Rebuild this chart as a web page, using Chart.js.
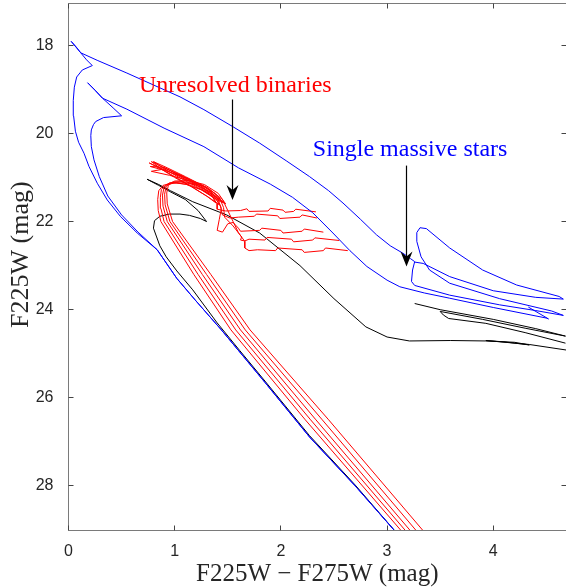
<!DOCTYPE html>
<html><head><meta charset="utf-8">
<script src="https://cdn.jsdelivr.net/npm/chart.js@4.4.0/dist/chart.umd.min.js"></script>
<style>html,body{margin:0;padding:0;background:#fff;overflow:hidden}canvas{display:block}</style>
</head><body>
<canvas id="c" width="566" height="587" style="width:566px;height:587px"></canvas>
<script>
const xTicks=[0,1,2,3,4];
const yTicks=[18,20,22,24,26,28];

const blueOuter=[[3.12,29.15],[2.70,28.0],[2.27,26.89],[1.85,25.65],[1.44,24.46],[1.20,23.8],[1.02,23.29],[0.835,22.64],[0.647,22.26],[0.491,21.89],[0.365,21.51],[0.271,21.13],[0.193,20.75],[0.146,20.45],[0.095,20.2],[0.065,19.95],[0.048,19.6],[0.045,19.25],[0.055,18.95],[0.077,18.72],[0.13,18.56],[0.224,18.46],[0.17,18.33],[0.115,18.17],[0.07,18.04],[0.025,17.91],[0.07,18.03],[0.115,18.17],[0.27,18.34],[0.55,18.63],[0.80,18.9],[1.05,19.17],[1.275,19.46],[1.55,19.85],[1.80,20.22],[2.05,20.62],[2.27,20.98],[2.45,21.3],[2.585,21.58],[2.75,21.95],[2.90,22.3],[3.03,22.55],[3.15,22.72],[3.22,22.84],[3.26,22.91],[3.24,23.1],[3.23,23.36],[3.26,23.45],[3.59,23.67],[4.06,23.89],[4.40,24.02],[4.66,24.13],[4.55,24.03],[4.06,23.75],[3.59,23.4],[3.40,23.1],[3.32,22.8],[3.28,22.45],[3.28,22.25],[3.31,22.14],[3.37,22.16],[3.59,22.60],[3.90,23.10],[4.22,23.44],[4.62,23.70],[4.66,23.76],[4.40,23.72],[4.00,23.57],[3.59,23.25],[3.34,22.95],[3.26,22.92]];

const blueInner=[[3.12,29.15],[2.70,28.0],[2.27,26.89],[1.85,25.65],[1.44,24.46],[1.20,23.8],[1.02,23.29],[0.835,22.64],[0.655,22.24],[0.50,21.85],[0.37,21.42],[0.29,20.98],[0.24,20.6],[0.215,20.30],[0.21,20.05],[0.215,19.92],[0.235,19.80],[0.256,19.73],[0.33,19.64],[0.50,19.6],[0.42,19.42],[0.32,19.2],[0.25,19.02],[0.18,18.85],[0.25,19.02],[0.32,19.2],[0.55,19.45],[0.90,19.88],[1.275,20.30],[1.60,20.78],[1.90,21.15],[2.11,21.45],[2.30,21.8],[2.49,22.26],[2.65,22.66],[2.81,23.02],[3.00,23.33],[3.12,23.48],[3.35,23.62],[3.59,23.74],[4.0,23.95],[4.5,24.19],[4.52,24.21],[4.33,23.94]];

const blackMain=[[3.12,29.15],[2.70,27.98],[2.27,26.86],[1.85,25.62],[1.61,24.92],[1.40,24.3],[1.17,23.55],[1.02,23.12],[0.92,22.80],[0.86,22.55],[0.83,22.35],[0.80,22.15],[0.81,21.98],[0.86,21.88],[0.95,21.83],[1.05,21.83],[1.14,21.86],[1.24,21.93],[1.30,22.0],[1.22,21.75],[1.10,21.5],[0.955,21.32],[0.85,21.18],[0.74,21.04],[0.85,21.16],[0.96,21.30],[1.17,21.55],[1.49,21.85],[1.80,22.26],[2.18,23.0],[2.50,23.75],[2.80,24.39],[3.0,24.62],[3.21,24.71],[3.60,24.70],[3.93,24.71],[4.20,24.74],[4.34,24.80],[4.10,24.73],[3.93,24.70],[4.34,24.79],[4.70,24.92]];
const blackTail=[[3.26,23.86],[3.50,24.0],[4.00,24.22],[4.40,24.43],[4.68,24.60],[4.30,24.42],[3.90,24.22],[3.50,24.04],[3.53,24.12],[3.58,24.2],[3.93,24.31],[4.30,24.52],[4.68,24.76]];

const red1=[[3.235,29.3],[2.23,26.5],[1.53,24.46],[1.18,23.2],[0.87,22.0],[0.845,21.75],[0.84,21.5],[0.85,21.3],[0.89,21.18],[0.98,21.12],[1.10,21.15],[1.25,21.28],[1.36,21.45],[1.39,21.58],[1.30,21.42],[1.15,21.2],[1.0,21.0],[0.88,20.82],[0.76,20.67],[0.88,20.8],[1.05,20.98],[1.22,21.2],[1.35,21.42],[1.40,21.6],[1.40,21.72],[1.48,21.76],[1.62,21.75],[1.68,21.71],[1.70,21.77],[1.88,21.76],[1.90,21.70],[2.02,21.74],[2.04,21.79],[2.12,21.77],[2.14,21.72],[2.33,21.78]];
const red2=[[3.275,29.3],[2.28,26.5],[1.575,24.46],[1.22,23.2],[0.90,22.0],[0.87,21.7],[0.865,21.45],[0.875,21.27],[0.92,21.16],[1.02,21.12],[1.16,21.18],[1.30,21.33],[1.40,21.52],[1.42,21.62],[1.32,21.45],[1.17,21.22],[1.0,20.98],[0.87,20.80],[0.78,20.64],[0.90,20.78],[1.08,20.97],[1.25,21.2],[1.38,21.45],[1.43,21.65],[1.45,21.85],[1.52,21.92],[1.60,21.9],[1.75,21.88],[1.77,21.83],[1.97,21.87],[1.99,21.93],[2.18,21.90],[2.20,21.85],[2.34,21.92]];
const red3=[[3.32,29.3],[2.33,26.5],[1.62,24.46],[1.26,23.2],[0.93,22.0],[0.89,21.65],[0.885,21.4],[0.90,21.22],[0.95,21.12],[1.06,21.1],[1.20,21.17],[1.34,21.33],[1.43,21.55],[1.35,21.42],[1.20,21.2],[1.02,20.97],[0.90,20.8],[0.80,20.64],[0.93,20.78],[1.10,20.98],[1.28,21.2],[1.40,21.45],[1.44,21.7],[1.42,21.95],[1.40,22.2],[1.45,22.24],[1.50,22.05],[1.55,22.02],[1.60,22.15],[1.62,22.22],[1.80,22.2],[1.82,22.15],[2.00,22.2],[2.02,22.26],[2.20,22.22],[2.22,22.17],[2.40,22.24]];
const red4=[[3.375,29.3],[2.39,26.5],[1.665,24.46],[1.30,23.2],[0.955,22.0],[0.91,21.62],[0.905,21.38],[0.92,21.2],[0.98,21.1],[1.10,21.1],[1.25,21.18],[1.38,21.36],[1.46,21.58],[1.37,21.42],[1.22,21.18],[1.04,20.95],[0.90,20.77],[0.77,20.75],[0.92,20.85],[1.12,21.02],[1.30,21.22],[1.42,21.45],[1.46,21.68],[1.47,21.9],[1.55,22.1],[1.63,22.35],[1.62,22.42],[1.66,22.44],[1.70,22.40],[1.85,22.42],[1.87,22.36],[2.10,22.40],[2.12,22.46],[2.30,22.42],[2.32,22.37],[2.55,22.43]];
const red5=[[3.44,29.3],[2.45,26.5],[1.71,24.46],[1.34,23.2],[0.98,22.0],[0.93,21.6],[0.925,21.35],[0.94,21.18],[1.0,21.08],[1.13,21.07],[1.28,21.16],[1.41,21.36],[1.48,21.6],[1.38,21.42],[1.24,21.18],[1.05,20.95],[0.92,20.8],[0.78,20.86],[0.95,20.95],[1.15,21.08],[1.32,21.25],[1.45,21.5],[1.50,21.75],[1.55,22.0],[1.60,22.25],[1.66,22.45],[1.66,22.6],[1.70,22.66],[1.78,22.64],[1.95,22.66],[1.97,22.60],[2.20,22.64],[2.22,22.70],[2.40,22.66],[2.42,22.60],[2.63,22.66]];

const labels=[
  {text:'Unresolved binaries', x:1.571, y:19.05, color:'#ff0000'},
  {text:'Single massive stars', x:3.217, y:20.52, color:'#0000ff'}
];
const arrows=[
  {x:1.541, from:19.23, to:21.51},
  {x:3.187, from:20.73, to:23.02}
];
const yTitle={text:'F225W (mag)', at:22.75};

const pts=a=>a.map(([x,y])=>({x,y}));
const ds=(arr,color)=>({data:pts(arr),showLine:true,borderColor:color,backgroundColor:color,borderWidth:1,pointRadius:0,fill:false,tension:0});

const snap=v=>Math.round(v-0.5)+0.5;
const framePlugin={id:'frame',afterDraw(chart){
  const {ctx,chartArea:a,scales:{x,y}}=chart;
  ctx.save();
  ctx.font='24px "Liberation Serif"';
  ctx.textAlign='center';ctx.textBaseline='alphabetic';
  labels.forEach(l=>{ctx.fillStyle=l.color;ctx.fillText(l.text,x.getPixelForValue(l.x),y.getPixelForValue(l.y));});
  ctx.save();
  ctx.translate(21,y.getPixelForValue(yTitle.at));
  ctx.rotate(-Math.PI/2);
  ctx.font='26px "Liberation Serif"';ctx.fillStyle='#262626';ctx.textBaseline='middle';
  ctx.fillText(yTitle.text,0,0);
  ctx.restore();
  arrows.forEach(ar=>{
    const px=snap(x.getPixelForValue(ar.x)), p0=y.getPixelForValue(ar.from), p1=y.getPixelForValue(ar.to);
    ctx.strokeStyle='#000';ctx.fillStyle='#000';ctx.lineWidth=1.2;
    ctx.beginPath();ctx.moveTo(px,p0);ctx.lineTo(px,p1-8);ctx.stroke();
    ctx.beginPath();ctx.moveTo(px,p1);ctx.lineTo(px-6,p1-15);ctx.lineTo(px,p1-10);ctx.lineTo(px+6,p1-15);ctx.closePath();ctx.fill();
  });
  const L=snap(a.left),R=a.right+0.5,T=snap(a.top),B=snap(a.bottom);
  ctx.strokeStyle='#7a7a7a';ctx.lineWidth=1;
  ctx.beginPath();ctx.moveTo(L,T);ctx.lineTo(R,T);ctx.lineTo(R,B);ctx.lineTo(L,B);ctx.closePath();ctx.stroke();
  ctx.strokeStyle='#444';
  ctx.beginPath();
  xTicks.forEach(v=>{const p=snap(x.getPixelForValue(v));ctx.moveTo(p,B);ctx.lineTo(p,B-5);ctx.moveTo(p,T);ctx.lineTo(p,T+5);});
  yTicks.forEach(v=>{const p=snap(y.getPixelForValue(v));ctx.moveTo(L,p);ctx.lineTo(L+5,p);ctx.moveTo(R,p);ctx.lineTo(R-5,p);});
  ctx.stroke();
  ctx.restore();
}};

new Chart(document.getElementById('c'),{
  type:'scatter',
  data:{datasets:[
    ds(blueOuter,'#0000ff'),ds(blueInner,'#0000ff'),
    ds(red1,'#ff0000'),ds(red2,'#ff0000'),ds(red3,'#ff0000'),ds(red4,'#ff0000'),ds(red5,'#ff0000'),
    ds(blackMain,'#000000'),ds(blackTail,'#000000')
  ]},
  options:{
    responsive:false,animation:false,devicePixelRatio:1,
    layout:{padding:{top:3,right:0,left:0,bottom:0}},
    plugins:{legend:{display:false},tooltip:{enabled:false}},
    scales:{
      x:{type:'linear',min:0,max:4.685,
        grid:{display:false,drawTicks:false},border:{display:false},
        ticks:{font:{family:'"Liberation Sans", Arial, sans-serif',size:16},color:'#262626',padding:12},
        title:{display:true,text:'F225W − F275W (mag)',font:{family:'"Liberation Serif", serif',size:25,lineHeight:1},color:'#262626',padding:{top:0,bottom:0}},
        afterBuildTicks:s=>{s.ticks=xTicks.map(v=>({value:v}));},
        afterFit:s=>{s.height=57;s.paddingLeft=0;s.paddingRight=0;s.paddingTop=0;s.paddingBottom=0;}
      },
      y:{type:'linear',reverse:true,min:17.04,max:29,
        grid:{display:false,drawTicks:false},border:{display:false},
        ticks:{font:{family:'"Liberation Sans", Arial, sans-serif',size:16},color:'#262626',padding:15},
        title:{display:false},
        afterBuildTicks:s=>{s.ticks=yTicks.map(v=>({value:v}));},
        afterFit:s=>{s.width=68.5;s.paddingLeft=0;s.paddingRight=0;s.paddingTop=0;s.paddingBottom=0;}
      }
    }
  },
  plugins:[framePlugin]
});
</script>
</body></html>
